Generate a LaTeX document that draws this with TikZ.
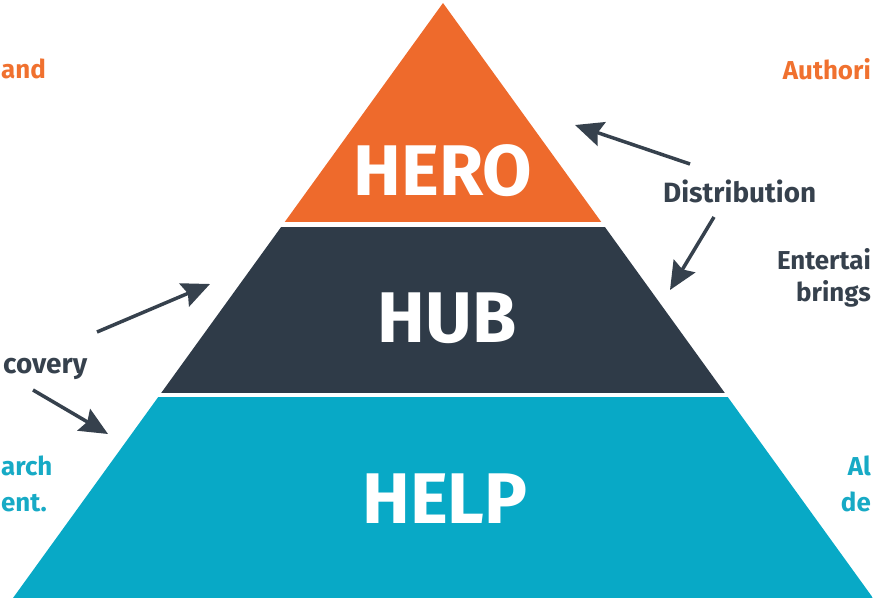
\documentclass[tikz,border=0pt]{standalone}
\usepackage{fontspec}
\setmainfont{Fira Sans}
\usetikzlibrary{arrows.meta}

\definecolor{heroorange}{HTML}{EE6A2C}
\definecolor{hubnavy}{HTML}{2F3B48}
\definecolor{helpteal}{HTML}{08A9C6}
\definecolor{notegray}{HTML}{36414D}
\definecolor{noteorange}{HTML}{F0712F}
\definecolor{noteteal}{HTML}{17AAC5}

\begin{document}
\begin{tikzpicture}[x=1bp,y=-1bp,
    layer/.style={text=white,inner sep=0pt,font=\bfseries\fontsize{72}{72}\selectfont},
    note/.style={inner sep=0pt,text=notegray,font=\bfseries\fontsize{28}{32}\selectfont},
    side/.style={note,font=\bfseries\fontsize{26}{30}\selectfont},
    pointer/.style={draw=notegray,line width=3.5bp,-{Stealth[length=28bp,width=25bp,inset=4bp]}}]
    \useasboundingbox (0,0) rectangle (873,601);

    \begin{scope}
        \clip (443,3) -- (13,598) -- (873,598) -- cycle;
        \fill[heroorange] (0,0) rectangle (873,222);
        \fill[hubnavy] (0,227) rectangle (873,393);
        \fill[helpteal] (0,397) rectangle (873,598);
    \end{scope}

    \node[layer] (hero) at (443,171) {HERO};
    \node[layer] (hub) at (447,318) {HUB};
    \node[layer] (help) at (445,499) {HELP};

    \node[note,anchor=base west] (distribution) at (663,203) {Distribution};
    \node[note,anchor=base west] (discovery) at (3,373) {covery};

    \node[side,text=noteorange,anchor=base west] (leftTop) at (1,79) {and};
    \node[side,text=noteorange,anchor=base east] (rightTop) at (871,80) {Authori};
    \node[side,anchor=base east] (rightMid) at (871,269) {Entertai};
    \node[side,anchor=base east] (rightMidB) at (871,301) {brings};
    \node[side,text=noteteal,anchor=base west] (leftLow) at (1,475) {arch};
    \node[side,text=noteteal,anchor=base west] (leftLowB) at (1,511) {ent.};
    \node[side,text=noteteal,anchor=base east] (rightLow) at (871,475) {Al};
    \node[side,text=noteteal,anchor=base east] (rightLowB) at (871,511) {de};

    \coordinate (distUpFrom) at (690,164);
    \coordinate (distUpTo) at (575,125);
    \coordinate (distDownFrom) at (714,217);
    \coordinate (distDownTo) at (670,290);
    \coordinate (discUpFrom) at (97,332);
    \coordinate (discUpTo) at (210,284);
    \coordinate (discDownFrom) at (33,390);
    \coordinate (discDownTo) at (108,434);

    \draw[pointer] (distUpFrom) -- (distUpTo);
    \draw[pointer] (distDownFrom) -- (distDownTo);
    \draw[pointer] (discUpFrom) -- (discUpTo);
    \draw[pointer] (discDownFrom) -- (discDownTo);
\end{tikzpicture}
\end{document}
